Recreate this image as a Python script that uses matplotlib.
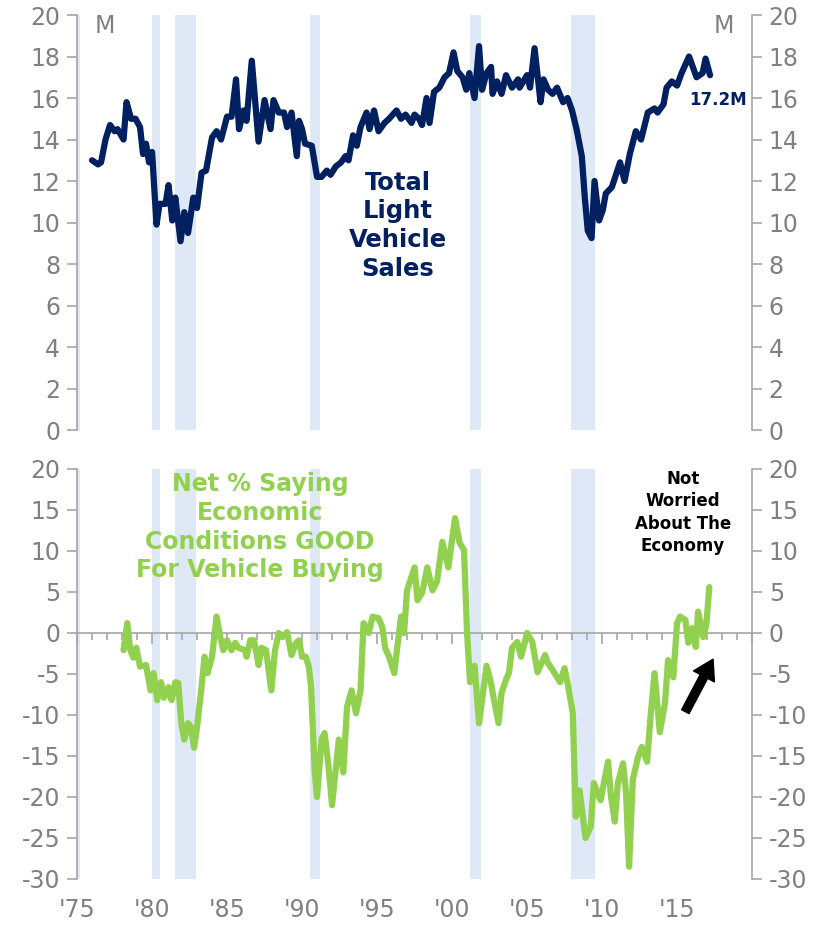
import matplotlib.pyplot as plt
from matplotlib.ticker import MultipleLocator, FixedLocator

plt.rcParams['font.family'] = 'DejaVu Sans'
plt.rcParams['axes.unicode_minus'] = False

NAVY = '#002060'
GREEN = '#92d050'
SHADE = '#dee8f6'
GRAY = '#808080'
SPINE = '#a6a6a6'

sales_years = [
    1976.0, 1976.4, 1976.6, 1976.9, 1977.2, 1977.5, 1977.7, 1978.1, 1978.3, 1978.6,
    1978.9, 1979.2, 1979.4, 1979.6, 1979.8, 1980.0, 1980.3, 1980.5, 1980.9, 1981.1,
    1981.35, 1981.55, 1981.9, 1982.15, 1982.4, 1982.75, 1983.0, 1983.3, 1983.6, 1984.0,
    1984.3, 1984.6, 1985.0, 1985.3, 1985.6, 1985.8, 1986.1, 1986.3, 1986.65, 1986.9,
    1987.1, 1987.5, 1987.9, 1988.1, 1988.45, 1988.8, 1989.0, 1989.3, 1989.65, 1989.8,
    1990.0, 1990.2, 1990.65, 1991.0, 1991.3, 1991.65, 1991.9, 1992.25, 1992.6, 1992.9,
    1993.1, 1993.4, 1993.65, 1993.9, 1994.3, 1994.5, 1994.8, 1995.1, 1995.5, 1995.8,
    1996.3, 1996.6, 1996.9, 1997.3, 1997.5, 1997.8, 1998.0, 1998.3, 1998.5, 1998.8,
    1999.15, 1999.5, 1999.8, 2000.1, 2000.35, 2000.7, 2000.95, 2001.15, 2001.5, 2001.8,
    2002.0, 2002.3, 2002.6, 2002.7, 2003.0, 2003.3, 2003.6, 2004.0, 2004.4, 2004.5,
    2005.0, 2005.2, 2005.5, 2005.9, 2006.1, 2006.4, 2006.7, 2007.0, 2007.4, 2007.7,
    2008.0, 2008.3, 2008.65, 2008.85, 2009.05, 2009.3, 2009.5, 2009.8, 2010.05, 2010.25,
    2010.65, 2011.2, 2011.5, 2011.85, 2012.25, 2012.6, 2013.05, 2013.5, 2013.7, 2014.1,
    2014.3, 2014.65, 2015.0, 2015.3, 2015.8, 2016.3, 2016.7, 2016.9, 2017.2,
]
sales = [
    13.0, 12.8, 12.9, 14.0, 14.7, 14.4, 14.5, 14.0, 15.8, 15.0,
    15.0, 14.6, 13.3, 13.8, 12.9, 13.4, 9.9, 10.9, 10.9, 11.8,
    10.1, 11.2, 9.1, 10.5, 9.5, 11.2, 10.7, 12.4, 12.5, 14.1,
    14.4, 14.0, 15.1, 15.1, 16.9, 14.5, 15.4, 14.9, 17.8, 15.6,
    13.9, 15.9, 14.5, 15.9, 15.3, 15.3, 14.6, 15.3, 13.2, 14.9,
    14.5, 13.8, 13.7, 12.2, 12.2, 12.5, 12.3, 12.7, 12.9, 13.2,
    13.0, 14.2, 13.7, 14.6, 15.3, 14.5, 15.4, 14.4, 14.8, 15.0,
    15.4, 15.0, 15.2, 14.8, 15.2, 15.0, 14.7, 16.0, 14.8, 16.3,
    16.5, 17.0, 17.2, 18.2, 17.3, 17.0, 16.4, 17.2, 16.0, 18.5,
    16.4, 17.2, 17.5, 16.2, 16.8, 16.2, 17.1, 16.5, 16.9, 16.5,
    17.1, 16.5, 18.4, 15.8, 16.9, 16.4, 16.2, 16.5, 15.8, 16.0,
    15.4, 14.5, 13.2, 11.2, 9.6, 9.25, 12.0, 10.1, 10.6, 11.4,
    11.7, 12.9, 12.0, 13.3, 14.4, 14.0, 15.3, 15.5, 15.3, 15.7,
    16.5, 16.8, 16.6, 17.2, 18.0, 17.0, 17.2, 17.9, 17.1,
]

net_years = [
    1978.1, 1978.35, 1978.55, 1978.75, 1978.95, 1979.2, 1979.6, 1979.9, 1980.1, 1980.35,
    1980.6, 1980.8, 1981.1, 1981.3, 1981.55, 1981.75, 1981.95, 1982.15, 1982.4, 1982.6,
    1982.8, 1983.0, 1983.3, 1983.5, 1983.7, 1984.0, 1984.3, 1984.55, 1984.75, 1985.0,
    1985.3, 1985.55, 1985.75, 1986.2, 1986.3, 1986.55, 1986.8, 1987.1, 1987.3, 1987.6,
    1987.95, 1988.2, 1988.45, 1988.7, 1989.0, 1989.3, 1989.6, 1989.8, 1990.0, 1990.25,
    1990.45, 1990.6, 1990.85, 1991.0, 1991.3, 1991.5, 1991.75, 1992.0, 1992.45, 1992.75,
    1993.0, 1993.3, 1993.6, 1993.9, 1994.1, 1994.45, 1994.7, 1995.1, 1995.35, 1995.55,
    1995.8, 1996.15, 1996.35, 1996.6, 1996.8, 1997.0, 1997.5, 1997.7, 1998.0, 1998.35,
    1998.7, 1999.0, 1999.35, 1999.75, 2000.2, 2000.5, 2000.8, 2001.0, 2001.2, 2001.5,
    2001.8, 2002.3, 2002.6, 2002.8, 2003.1, 2003.3, 2003.6, 2003.8, 2004.0, 2004.35,
    2004.6, 2005.0, 2005.35, 2005.7, 2006.2, 2006.4, 2006.7, 2007.2, 2007.5, 2007.7,
    2008.05, 2008.25, 2008.5, 2008.9, 2009.25, 2009.45, 2009.9, 2010.4, 2010.6, 2010.85,
    2011.05, 2011.4, 2011.6, 2011.8, 2012.05, 2012.4, 2012.65, 2013.0, 2013.25, 2013.5,
    2013.85, 2014.2, 2014.4, 2014.75, 2015.0, 2015.2, 2015.55, 2015.75, 2016.0, 2016.25,
    2016.4, 2016.75, 2016.95, 2017.15,
]
net_good = [
    -2.1, 1.2, -2.1, -3.0, -1.8, -4.1, -3.9, -7.0, -4.9, -8.2,
    -6.0, -7.9, -6.6, -8.2, -6.0, -6.1, -11.0, -13.0, -11.0, -11.5,
    -14.0, -11.5, -6.6, -2.9, -4.9, -2.9, 2.0, -0.5, -2.1, -0.9,
    -2.1, -1.2, -1.8, -2.1, -2.9, -0.9, -0.9, -3.9, -1.8, -2.1,
    -7.0, -2.1, 0.0, -0.5, 0.1, -2.7, -1.2, -0.9, -2.9, -2.9,
    -4.1, -6.6, -17.0, -20.0, -13.0, -12.2, -16.0, -21.0, -13.0, -17.0,
    -9.0, -7.0, -9.8, -7.0, 1.2, 0.0, 2.0, 1.8, 0.7, -1.9,
    -2.9, -4.9, -1.7, 2.0, 0.0, 5.2, 8.0, 4.0, 4.9, 8.0,
    5.2, 6.3, 11.1, 8.0, 14.0, 11.0, 10.1, 0.0, -6.0, -4.0,
    -11.0, -4.0, -6.1, -8.2, -11.0, -7.3, -5.7, -4.8, -1.8, -1.1,
    -2.9, 0.0, -1.1, -4.8, -2.7, -3.7, -4.5, -6.0, -4.3, -6.1,
    -9.8, -22.4, -19.2, -25.0, -23.6, -18.3, -20.4, -15.7, -20.0, -23.0,
    -18.3, -15.9, -19.5, -28.5, -17.9, -15.1, -13.9, -15.7, -9.8, -4.9,
    -12.1, -8.5, -3.3, -5.4, 1.2, 2.0, 1.6, -1.2, 0.6, -1.7,
    2.6, -0.5, 1.0, 5.6,
]

recessions = [(1973.9, 1975.2), (1980.0, 1980.55), (1981.55, 1982.9),
              (1990.55, 1991.2), (2001.2, 2001.9), (2007.95, 2009.5)]
year_ticks = [1975, 1980, 1985, 1990, 1995, 2000, 2005, 2010, 2015]
year_labels = ["'75", "'80", "'85", "'90", "'95", "'00", "'05", "'10", "'15"]


def style(ax, lo, hi, step):
    ax.set_xlim(1975, 2020)
    ax.set_ylim(lo, hi)
    ax.spines['top'].set_visible(False)
    ax.spines['bottom'].set_visible(False)
    for side in ['left', 'right']:
        ax.spines[side].set_color(SPINE)
        ax.spines[side].set_linewidth(1.2)
    ax.yaxis.set_major_locator(MultipleLocator(step))
    ax.tick_params(axis='y', left=True, right=True, labelleft=True, labelright=True,
                   length=7, width=1.2, color=SPINE, labelcolor=GRAY,
                   labelsize=17, direction='out', pad=5)
    for s, e in recessions:
        ax.axvspan(s, e, color=SHADE, lw=0, zorder=0)


fig = plt.figure(figsize=(8.23, 9.27), dpi=100)
ax1 = fig.add_axes([0.0936, 0.5361, 0.8202, 0.4477])
ax2 = fig.add_axes([0.0936, 0.0518, 0.8202, 0.4423])

# top: light vehicle sales
style(ax1, 0, 20, 2)
ax1.set_xticks([])
ax1.plot(sales_years, sales, color=NAVY, lw=4.5, solid_joinstyle='round',
         solid_capstyle='round', zorder=3)
ax1.text(0.041, 0.973, 'M', transform=ax1.transAxes, ha='center', va='center',
         color=GRAY, fontsize=17)
ax1.text(0.958, 0.973, 'M', transform=ax1.transAxes, ha='center', va='center',
         color=GRAY, fontsize=17)
ax1.text(2017.7, 15.9, '17.2M', ha='center', va='center', color=NAVY,
         fontsize=12, fontweight='bold')
ax1.text(1996.4, 9.85, 'Total\nLight\nVehicle\nSales', ha='center', va='center',
         color=NAVY, fontsize=17.5, fontweight='bold', linespacing=1.25)

# bottom: net % saying conditions good
style(ax2, -30, 20, 5)
ax2.spines['bottom'].set_visible(True)
ax2.spines['bottom'].set_position(('data', 0))
ax2.spines['bottom'].set_color(SPINE)
ax2.spines['bottom'].set_linewidth(1.2)
ax2.xaxis.set_major_locator(FixedLocator(range(1975, 2021, 5)))
ax2.xaxis.set_minor_locator(MultipleLocator(1))
ax2.tick_params(axis='x', which='major', length=8, width=1.2, color=SPINE,
                labelbottom=False)
ax2.tick_params(axis='x', which='minor', length=5, width=1.2, color=SPINE)
sec = ax2.secondary_xaxis('bottom')
sec.set_xticks(year_ticks, labels=year_labels)
sec.tick_params(length=0, labelsize=17, labelcolor=GRAY, pad=14)
sec.spines['bottom'].set_visible(False)

ax2.plot(net_years, net_good, color=GREEN, lw=4.5, solid_joinstyle='round',
         solid_capstyle='round', zorder=3)
ax2.text(1987.2, 12.9, 'Net % Saying\nEconomic\nConditions GOOD\nFor Vehicle Buying',
         ha='center', va='center', color=GREEN, fontsize=17, fontweight='bold',
         linespacing=1.25)
ax2.text(2015.4, 14.7, 'Not\nWorried\nAbout The\nEconomy', ha='center', va='center',
         color='black', fontsize=12, fontweight='bold', linespacing=1.3)
ax2.annotate('', xy=(2017.4, -3.2), xytext=(2015.55, -9.6),
             arrowprops=dict(facecolor='black', edgecolor='black', width=6,
                             headwidth=17, headlength=14, shrink=0))

fig.savefig('out.png', dpi=100)
